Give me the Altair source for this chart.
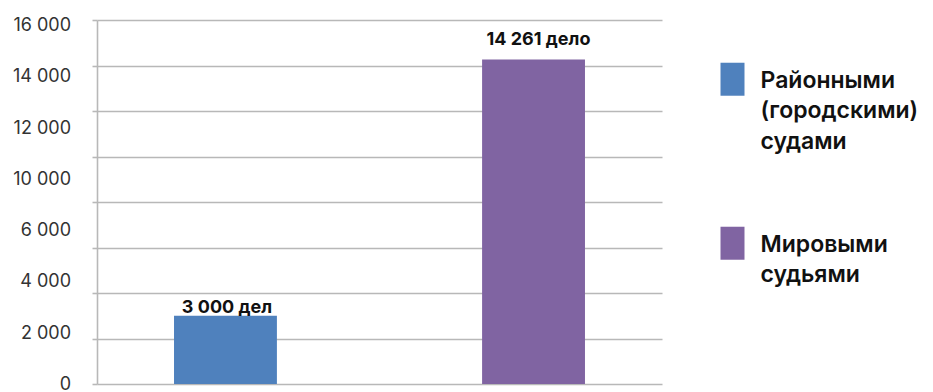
import altair as alt
import pandas as pd

# Cases heard during the year, by type of court
courts = ["Районными (городскими) судами", "Мировыми судьями"]
cases = [3000, 14261]
case_labels = ["3 000 дел", "14 261 дело"]
court_colors = ["#4f81bd", "#8064a2"]

# Gridlines every 2 000 and the scale labels printed beside the axis
grid_values = [0, 2000, 4000, 6000, 8000, 10000, 12000, 14000, 16000]
axis_labels = ["0", "2 000", "4 000", "6 000", "10 000", "12 000", "14 000", "16 000"]

bars_df = pd.DataFrame({"court": courts, "cases": cases, "label": case_labels})
axis_df = pd.DataFrame({"slot": list(range(len(axis_labels))), "text": axis_labels})

W, H = 565, 364
FONT = "Inter"
GRID = "#b8b8b8"

x_enc = alt.X(
    "court:N", sort=courts, axis=None,
    scale=alt.Scale(paddingInner=0.666, paddingOuter=0.25),
)
y_scale = alt.Scale(domain=[0, 16000], nice=False, zero=True)

# tall rectangle used as the legend swatch
swatch = "M-0.727,-0.41L0.727,-0.41L0.727,1.59L-0.727,1.59Z"

bars = alt.Chart(bars_df).mark_bar(opacity=1).encode(
    x=x_enc,
    y=alt.Y(
        "cases:Q", scale=y_scale,
        axis=alt.Axis(
            values=grid_values, labels=False, title=None,
            grid=True, gridColor=GRID, gridWidth=1.6,
            ticks=True, tickColor=GRID, tickWidth=1.6, tickSize=5,
            domain=True, domainColor=GRID, domainWidth=1.6,
        ),
    ),
    color=alt.Color(
        "court:N",
        scale=alt.Scale(domain=courts, range=court_colors),
        legend=alt.Legend(
            title=None, orient="none", legendX=619, legendY=33,
            direction="vertical", padding=0,
            symbolType=swatch, symbolSize=1089, symbolStrokeWidth=0,
            symbolOpacity=1, symbolOffset=0,
            labelOffset=11.5, labelExpr="split(datum.label, ' ')",
            labelFont=FONT, labelFontSize=23, labelFontWeight=600,
            labelColor="#111111", labelBaseline="top", labelLimit=0,
            rowPadding=63,
        ),
    ),
)

value_text = alt.Chart(bars_df).encode(
    x=x_enc,
    y=alt.Y("cases:Q", scale=y_scale, axis=None),
    text="label:N",
)
label_district = value_text.transform_filter(
    alt.datum.court == courts[0]
).mark_text(baseline="alphabetic", dy=-2.5, dx=1.5, font=FONT,
            fontSize=18, fontWeight="bold", color="#111111")
label_magistrate = value_text.transform_filter(
    alt.datum.court == courts[1]
).mark_text(baseline="alphabetic", dy=-14.5, dx=5, font=FONT,
            fontSize=18, fontWeight="bold", color="#111111")

scale_labels = alt.Chart(axis_df).mark_text(
    align="right", baseline="middle", font=FONT, fontSize=18, color="#333333"
).encode(
    x=alt.value(-26),
    y=alt.Y("slot:Q", scale=alt.Scale(domain=[0.02, 7.12], nice=False, zero=False), axis=None),
    text="text:N",
)

chart = (
    alt.layer(bars, label_district, label_magistrate, scale_labels)
    .resolve_scale(y="independent")
    .properties(
        width=W, height=H,
        padding={"left": 97, "top": 20, "right": 933 - 97 - W, "bottom": 392 - 20 - H},
        autosize=alt.AutoSizeParams(type="none"),
        background="white",
    )
    .configure(
        view=alt.ViewConfig(stroke=None),
        style={"guide-label": {"lineHeight": 30.5}},
    )
)

chart.save("out.html", embed_options={"renderer": "svg", "actions": False})
